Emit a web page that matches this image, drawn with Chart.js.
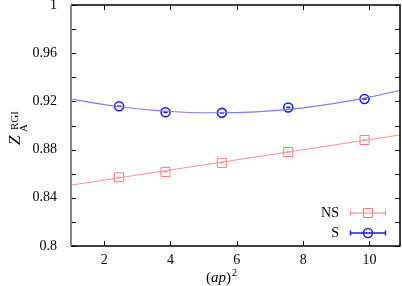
<!DOCTYPE html>
<html>
<head>
<meta charset="utf-8">
<script src="https://cdn.jsdelivr.net/npm/chart.js@4"></script>
<style>
  html, body { margin: 0; padding: 0; background: #fff; }
  #wrap { width: 402px; height: 286px; }
</style>
</head>
<body>
<div id="wrap"><canvas id="c" width="402" height="286"></canvas></div>
<script>
// measured points, x = (ap)^2
const xValues = [2.45, 3.85, 5.55, 7.55, 9.85];
const nsValues = [0.857, 0.8615, 0.869, 0.878, 0.888];
const sValues = [0.916, 0.911, 0.9105, 0.915, 0.922];

// fit curves
const nsFitX = [1, 11];
const nsFitY = [0.8505, 0.8925];
const sFitX = [1, 2, 3, 4, 5, 6, 7, 8, 9, 10, 11];
const sFitY = [0.922, 0.9173, 0.9139, 0.9116, 0.9106, 0.9107, 0.9121, 0.9147, 0.9185, 0.9235, 0.9297];

const xTicks = [2, 4, 6, 8, 10];
const yTicks = [0.8, 0.82, 0.84, 0.86, 0.88, 0.9, 0.92, 0.94, 0.96, 0.98, 1];

const RED = '#ff7a7a';
const RED_LINE = '#ff9090';
const BLUE = '#1a1aff';
const BLUE_LINE = '#7c7cff';
const SERIF = '"Liberation Serif", "DejaVu Serif", serif';

const pts = (xs, ys) => xs.map((x, i) => ({ x: x, y: ys[i] }));

// gnuplot-like border, inward ticks, axis titles and key
const frame = {
  id: 'frame',
  afterDraw(chart) {
    const ctx = chart.ctx;
    const a = chart.chartArea;
    const xs = chart.scales.x, ys = chart.scales.y;
    ctx.save();
    ctx.strokeStyle = '#000';
    ctx.lineWidth = 1;
    xTicks.forEach(v => {
      const p = Math.round(xs.getPixelForValue(v)) + 0.5;
      ctx.beginPath();
      ctx.moveTo(p, a.bottom); ctx.lineTo(p, a.bottom - 5);
      ctx.moveTo(p, a.top); ctx.lineTo(p, a.top + 5);
      ctx.stroke();
    });
    yTicks.forEach(v => {
      const p = Math.round(ys.getPixelForValue(v)) + 0.5;
      ctx.beginPath();
      ctx.moveTo(a.left, p); ctx.lineTo(a.left + 5, p);
      ctx.moveTo(a.right, p); ctx.lineTo(a.right - 5, p);
      ctx.stroke();
    });
    ctx.lineWidth = 1.5;
    ctx.beginPath();
    ctx.moveTo(a.left, a.top); ctx.lineTo(a.right, a.top);
    ctx.lineTo(a.right, a.bottom); ctx.lineTo(a.left, a.bottom);
    ctx.stroke();
    ctx.strokeStyle = '#888';
    ctx.lineWidth = 2;
    ctx.beginPath();
    ctx.moveTo(a.left, a.top); ctx.lineTo(a.left, a.bottom);
    ctx.stroke();

    ctx.fillStyle = '#000';
    ctx.textBaseline = 'alphabetic';

    // y axis title Z_A^RGI
    ctx.save();
    ctx.translate(20, 126);
    ctx.rotate(-Math.PI / 2);
    ctx.textAlign = 'left';
    ctx.font = 'italic 17px ' + SERIF;
    ctx.fillText('Z', -19, 0);
    ctx.font = '11px ' + SERIF;
    ctx.fillText('RGI', -4, -2);
    ctx.fillText('A', -6, 7);
    ctx.restore();

    // x axis title (ap)^2
    ctx.textAlign = 'left';
    const x0 = 206;
    ctx.font = '15px ' + SERIF;
    ctx.fillText('(', x0, 282);
    ctx.font = 'italic 15px ' + SERIF;
    ctx.fillText('ap', x0 + 5, 282);
    ctx.font = '15px ' + SERIF;
    ctx.fillText(')', x0 + 20, 282);
    ctx.font = '10px ' + SERIF;
    ctx.fillText('2', x0 + 26, 276);

    // key
    ctx.font = '14px ' + SERIF;
    ctx.textAlign = 'right';
    ctx.textBaseline = 'middle';
    const rows = [
      { label: 'NS', y: 213, color: RED, shape: 'rect' },
      { label: 'S', y: 233, color: BLUE, shape: 'circle' }
    ];
    rows.forEach(r => {
      ctx.fillText(r.label, 339, r.y);
      ctx.strokeStyle = r.color;
      ctx.lineWidth = r.shape === 'circle' ? 1.5 : 1;
      ctx.beginPath();
      ctx.moveTo(350, r.y); ctx.lineTo(386, r.y);
      ctx.moveTo(350.5, r.y - 2.5); ctx.lineTo(350.5, r.y + 2.5);
      ctx.moveTo(385.5, r.y - 2.5); ctx.lineTo(385.5, r.y + 2.5);
      ctx.stroke();
      ctx.beginPath();
      if (r.shape === 'rect') {
        ctx.rect(363.5, r.y - 4.5, 9, 9);
      } else {
        ctx.arc(368, r.y, 4.5, 0, Math.PI * 2);
      }
      ctx.stroke();
    });
    ctx.restore();
  }
};

new Chart(document.getElementById('c'), {
  type: 'scatter',
  data: {
    datasets: [
      {
        data: pts(nsFitX, nsFitY), showLine: true, borderColor: RED_LINE,
        borderWidth: 1, pointRadius: 0
      },
      {
        data: pts(sFitX, sFitY), showLine: true, borderColor: BLUE_LINE,
        borderWidth: 1.2, pointRadius: 0, cubicInterpolationMode: 'monotone'
      },
      {
        data: pts(xValues, nsValues), pointStyle: 'rect', pointRadius: 6.4,
        borderColor: RED, backgroundColor: 'rgba(0,0,0,0)', borderWidth: 1
      },
      {
        data: pts(xValues, nsValues), pointStyle: 'line', pointRadius: 2,
        borderColor: RED, borderWidth: 1.2
      },
      {
        data: pts(xValues, sValues), pointStyle: 'circle', pointRadius: 4.5,
        borderColor: BLUE, backgroundColor: 'rgba(0,0,0,0)', borderWidth: 1.6
      },
      {
        data: pts(xValues, sValues), pointStyle: 'line', pointRadius: 2,
        borderColor: '#0000a0', borderWidth: 1.6
      }
    ]
  },
  options: {
    responsive: false,
    animation: false,
    layout: { autoPadding: false, padding: { top: 5, right: 2, left: 0, bottom: 0 } },
    plugins: { legend: { display: false }, tooltip: { enabled: false } },
    scales: {
      x: {
        type: 'linear', min: 1, max: 10.92,
        afterFit: s => { s.height = 40; s.paddingLeft = 0; s.paddingRight = 0; },
        afterBuildTicks: s => { s.ticks = xTicks.map(v => ({ value: v })); },
        grid: { display: false },
        border: { display: false },
        ticks: { color: '#000', font: { family: SERIF, size: 14 }, padding: -2, maxRotation: 0 }
      },
      y: {
        type: 'linear', min: 0.8, max: 1,
        afterFit: s => { s.width = 71; s.paddingTop = 0; s.paddingBottom = 0; },
        afterBuildTicks: s => { s.ticks = yTicks.map(v => ({ value: v })); },
        grid: { display: false },
        border: { display: false },
        ticks: {
          color: '#000', font: { family: SERIF, size: 14 }, padding: 6,
          callback: v => (Math.round(v * 100) % 4 === 0) ? String(Math.round(v * 100) / 100) : ''
        }
      }
    }
  },
  plugins: [frame]
});
</script>
</body>
</html>
